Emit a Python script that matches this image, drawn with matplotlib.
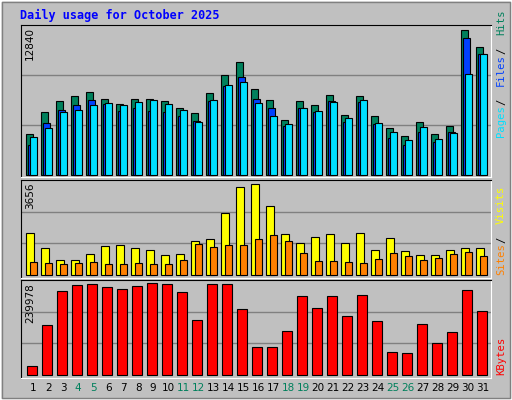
import matplotlib
matplotlib.use("Agg")
import matplotlib.pyplot as plt
from matplotlib.patches import Rectangle
import numpy as np

days = list(range(1, 32))
weekend = [4, 5, 11, 12, 18, 19, 25, 26]
hits = [3648,5573,6536,7062,7412,6799,6274,6711,6711,6536,5924,5486,7324,8900,10038,7674,6624,4873,6536,6186,7149,5311,7062,5223,4173,3472,4698,3648,4348,12840,11351]
files = [2685,4610,5748,6186,6624,6274,5661,5924,5661,5573,5223,4786,6536,7937,8725,6799,5924,4348,5924,5573,6536,4698,6449,4523,3297,2685,3823,2947,3823,12139,10738]
pages = [3385,4173,5573,5748,6186,6361,6186,6449,6624,6274,5748,4698,6624,8025,8287,6361,5223,4523,5924,5661,6449,5048,6624,4610,3823,3122,4260,3210,3735,8988,10738]
visits = [1670,1073,596,596,835,1153,1193,1073,994,795,835,1352,1431,2465,3538,3656,2783,1630,1272,1511,1630,1272,1670,994,1471,954,795,795,994,1073,1073]
sites = [517,477,437,477,517,437,437,477,437,437,596,1232,1113,1193,1193,1431,1590,1352,875,557,557,517,477,636,875,755,596,676,835,914,755]
kbytes = [24433,129145,218150,233857,236475,228621,223386,231239,239978,236475,215532,142234,236475,236475,171030,74171,74171,113438,205061,173647,205061,152705,207679,139616,61082,58464,131763,84642,110820,220768,165794]

W, H = 512, 400
fig = plt.figure(figsize=(W/100, H/100), dpi=100)
fig.patch.set_facecolor("#C0C0C0")
fig.add_artist(Rectangle((0, 0), 1, 1, transform=fig.transFigure, fill=False, ec="white", lw=2))
fig.add_artist(Rectangle((2/W, 2/H), 1-4/W, 1-4/H, transform=fig.transFigure, fill=False, ec="#808080", lw=1))
fig.add_artist(Rectangle((0.5/W, 0.5/H), 1-1/W, 1-1/H, transform=fig.transFigure, fill=False, ec="black", lw=1, zorder=-1))

mono = "DejaVu Sans Mono"
fig.text(20/W, 1-15/H, "Daily usage for October 2025", color="#0000FF", fontsize=8.5,
         fontweight="bold", family=mono, va="center", ha="left")

def mkax(top, bottom):
    ax = fig.add_axes([21/W, 1-bottom/H, 470/W, (bottom-top)/H])
    ax.set_facecolor("#C0C0C0")
    ax.set_xlim(0.19, 31.52)
    for s in ("left", "top"):
        ax.spines[s].set_color("black")
    for s in ("right", "bottom"):
        ax.spines[s].set_color("white")
    ax.set_xticks([]); ax.set_yticks([])
    return ax

x = np.array(days, dtype=float)

def grid(ax, top):
    for f in (1/3, 2/3):
        ax.axhline(top*f, color="#808080", lw=1, zorder=0)

ec = dict(edgecolor="black", linewidth=0.8)
ax1 = mkax(25, 177)
t1 = max(hits)*1.035
ax1.set_ylim(-t1*0.01, t1); grid(ax1, t1)
ax1.bar(x-0.5, hits, width=0.49, align="edge", color="#00805C", **ec, zorder=2)
ax1.bar(x-0.37, files, width=0.49, align="edge", color="#0040FF", **ec, zorder=3)
ax1.bar(x-0.23, pages, width=0.46, align="edge", color="#00E0FF", **ec, zorder=4)

ax2 = mkax(180, 278)
t2 = max(visits)*1.04
ax2.set_ylim(-t2*0.03, t2); grid(ax2, t2)
ax2.bar(x-0.5, visits, width=0.56, align="edge", color="#FFFF00", **ec, zorder=2)
ax2.bar(x-0.23, sites, width=0.49, align="edge", color="#FF8000", **ec, zorder=3)

ax3 = mkax(280, 378)
t3 = max(kbytes)*1.03
ax3.set_ylim(-t3*0.03, t3); grid(ax3, t3)
ax3.bar(x-0.43, kbytes, width=0.69, align="edge", color="#FF0000", **ec, zorder=2)

for d in days:
    xf = (21 + (d - 0.19) * 470/31.33) / W
    fig.text(xf, 1-388/H, str(d), ha="center", va="center", fontsize=7.5,
             color="#00805C" if d in weekend else "black")

fig.text(30/W, 1-27/H, "12840", rotation=90, ha="center", va="top", fontsize=7.5)
fig.text(30/W, 1-182/H, "3656", rotation=90, ha="center", va="top", fontsize=7.5)
fig.text(30/W, 1-283/H, "239978", rotation=90, ha="center", va="top", fontsize=7.5)

def stack(parts, y_bottom):
    y = 1 - y_bottom/H
    for txt, col in parts:
        fig.text(501/W, y, txt.strip(), rotation=90, ha="center", va="bottom",
                 fontsize=7.6, family=mono, color=col)
        y += len(txt) * 6.4/H

stack([("Pages", "#00E0FF"), (" / ", "black"), ("Files", "#0040FF"), (" / ", "black"), ("Hits", "#00805C")], 137)
stack([("Sites", "#FF8000"), (" / ", "black"), ("Visits", "#FFFF00")], 275)
stack([("KBytes", "#FF0000")], 375)

fig.savefig("out.png", dpi=100, facecolor=fig.get_facecolor())
